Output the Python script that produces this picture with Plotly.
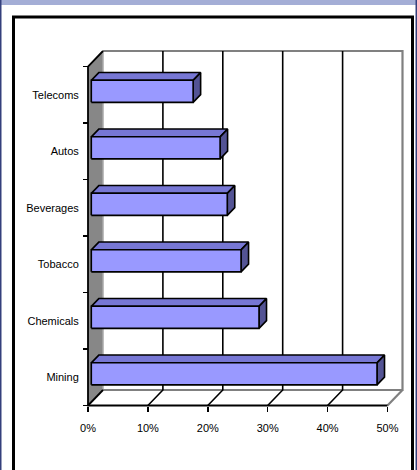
import plotly.graph_objects as go

# ---- data ----
categories = ["Mining", "Chemicals", "Tobacco", "Beverages", "Autos", "Telecoms"]
values = [47.7, 28.0, 25.0, 22.7, 21.5, 17.0]
x_tick_vals = [0, 10, 20, 30, 40, 50]
x_tick_text = ["0%", "10%", "20%", "30%", "40%", "50%"]

# ---- geometry (pixel calibration of the 3-D box) ----
W, H = 417, 470
PX_X0 = 88.0          # front 0% in px
PX_PER_PCT = 5.99
PX_Y_BOT = 405.5      # front floor (category -0.5) in px
PX_PER_CAT = 56.5
DEPTH_PX_X, DEPTH_PX_Y = 15.0, 15.5
DX = DEPTH_PX_X / PX_PER_PCT
DY = DEPTH_PX_Y / PX_PER_CAT
XMAX = 50
NCAT = len(categories)

L, R, T, B = 78, 410, 42, 414   # plot area in px
xr = [(L - PX_X0) / PX_PER_PCT, (R - PX_X0) / PX_PER_PCT]
yr = [-0.5 + (PX_Y_BOT - B) / PX_PER_CAT, -0.5 + (PX_Y_BOT - T) / PX_PER_CAT]


def px_x(p):
    return (p - L) / (R - L)


def px_y(p):
    return (B - p) / (B - T)


def P(v, c, f):
    return (v + f * DX, c + f * DY)


def poly_trace(polys, fill, line_color="black", lw=1.5, fillcolor=None, mode="lines"):
    xs, ys = [], []
    for poly in polys:
        for (a, b) in poly:
            xs.append(a)
            ys.append(b)
        if fill:
            xs.append(poly[0][0]); ys.append(poly[0][1])
        xs.append(None); ys.append(None)
    kw = dict(x=xs, y=ys, mode=mode, hoverinfo="skip", showlegend=False,
              line=dict(color=line_color, width=lw))
    if fill:
        kw.update(fill="toself", fillcolor=fillcolor)
    return go.Scatter(**kw)


fig = go.Figure()
c0, c1 = -0.5, NCAT - 0.5

# back wall
fig.add_trace(poly_trace([[P(0, c0, 1), P(XMAX, c0, 1), P(XMAX, c1, 1), P(0, c1, 1)]],
                         True, line_color="rgba(0,0,0,0)", lw=0, fillcolor="white"))
# floor
fig.add_trace(poly_trace([[P(0, c0, 0), P(XMAX, c0, 0), P(XMAX, c0, 1), P(0, c0, 1)]],
                         True, line_color="rgba(0,0,0,0)", lw=0, fillcolor="white"))
# left wall
fig.add_trace(poly_trace([[P(0, c0, 0), P(0, c1, 0), P(0, c1, 1), P(0, c0, 1)]],
                         True, line_color="rgba(0,0,0,0)", lw=0, fillcolor="#878787"))
# back wall gray border (left, top, right, bottom) and floor right edge
fig.add_trace(poly_trace([[P(0, c0, 1), P(0, c1, 1)]], False, line_color="#A8A8A8", lw=1.5))
fig.add_trace(poly_trace([[P(0, c1, 1), P(XMAX, c1, 1), P(XMAX, c0, 1), P(0, c0, 1)],
                          [P(XMAX, c0, 0), P(XMAX, c0, 1)]],
                         False, line_color="#808080", lw=2.2))
# gridlines on back wall and floor
grid_polys = []
for v in x_tick_vals[1:-1]:
    grid_polys.append([P(v, c0, 0), P(v, c0, 1), P(v, c1, 1)])
fig.add_trace(poly_trace(grid_polys, False, line_color="black", lw=1.6))
# front edges of box: axis lines and left wall edges
fig.add_trace(poly_trace([[P(XMAX, c0, 0), P(0, c0, 0), P(0, c1, 0), P(0, c1, 1)],
                          [P(0, c0, 0), P(0, c0, 1)]],
                         False, line_color="black", lw=1.8))

# bars
F1, F2 = 0.22, 0.72
HB = 0.195
front, top, side = [], [], []
for i, v in enumerate(values):
    y0, y1 = i - HB, i + HB
    front.append([P(0, y0, F1), P(v, y0, F1), P(v, y1, F1), P(0, y1, F1)])
    top.append([P(0, y1, F1), P(v, y1, F1), P(v, y1, F2), P(0, y1, F2)])
    side.append([P(v, y0, F1), P(v, y0, F2), P(v, y1, F2), P(v, y1, F1)])
fig.add_trace(poly_trace(top, True, fillcolor="#7777D4", lw=1.6))
fig.add_trace(poly_trace(side, True, fillcolor="#535394", lw=1.6))
fig.add_trace(poly_trace(front, True, fillcolor="#9999FF", lw=1.6))

font = dict(family="Liberation Sans, Arial, sans-serif", size=11, color="black")

fig.update_layout(
    width=W, height=H,
    margin=dict(l=L, r=W - R, t=T, b=H - B, pad=0),
    paper_bgcolor="white", plot_bgcolor="rgba(0,0,0,0)",
    font=font,
    hovermode=False,
    xaxis=dict(range=xr, anchor="free", position=px_y(PX_Y_BOT),
               tickmode="array", tickvals=x_tick_vals, ticktext=x_tick_text,
               ticks="outside", ticklen=5, tickwidth=1.5, tickcolor="black",
               showgrid=False, zeroline=False, showline=False,
               ticklabelstandoff=7, automargin=False, fixedrange=True),
    yaxis=dict(range=yr, anchor="free", position=px_x(PX_X0),
               tickmode="array", tickvals=list(range(NCAT)), ticktext=categories,
               ticks="outside", ticklen=5, tickcolor="rgba(0,0,0,0)",
               minor=dict(tickmode="array", tickvals=[k - 0.5 for k in range(NCAT + 1)],
                          ticks="outside", ticklen=5, tickwidth=1.5, tickcolor="black",
                          showgrid=False),
               showgrid=False, zeroline=False, showline=False,
               ticklabelstandoff=2, automargin=False, fixedrange=True),
    shapes=[
        dict(type="rect", xref="paper", yref="paper", layer="below",
             x0=px_x(0), x1=px_x(W), y0=px_y(0), y1=px_y(5),
             fillcolor="#A4AED6", line=dict(width=0)),
        dict(type="rect", xref="paper", yref="paper", layer="below",
             x0=px_x(0), x1=px_x(1.5), y0=px_y(0), y1=px_y(H),
             fillcolor="#34407C", line=dict(width=0)),
        dict(type="rect", xref="paper", yref="paper", layer="below",
             x0=px_x(W - 1.5), x1=px_x(W), y0=px_y(0), y1=px_y(H),
             fillcolor="#34407C", line=dict(width=0)),
        dict(type="rect", xref="paper", yref="paper", layer="below",
             x0=px_x(13.5), x1=px_x(412.5), y0=px_y(17), y1=px_y(H + 10),
             fillcolor="rgba(0,0,0,0)", line=dict(color="black", width=3)),
    ],
)

fig.write_html(
    "out.html",
    config={"displayModeBar": False, "staticPlot": True},
    post_script="document.body.style.margin='0';document.body.style.overflow='hidden';",
)
